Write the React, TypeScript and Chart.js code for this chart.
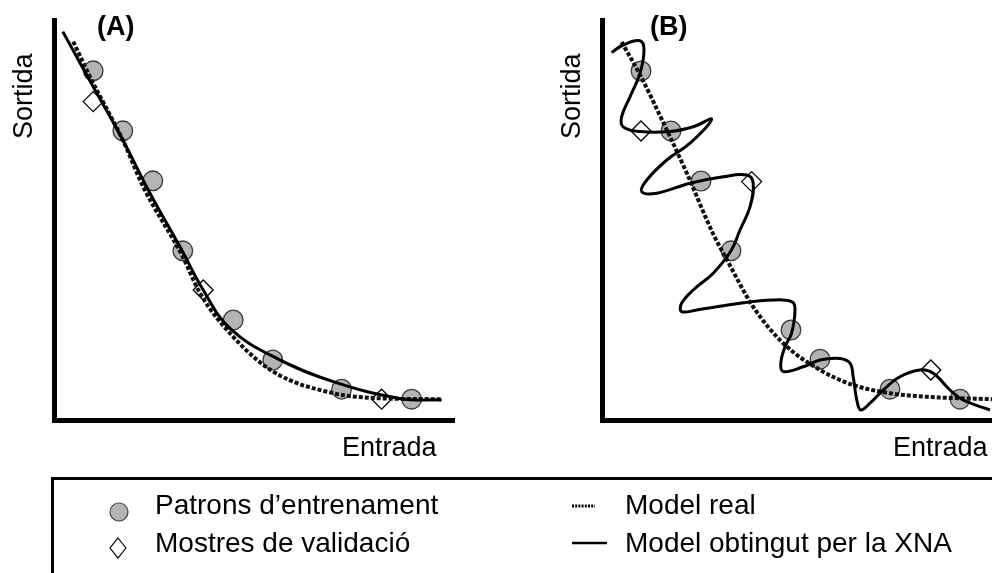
import React, { useEffect, useRef } from "react";
import { Chart, registerables } from "chart.js";

Chart.register(...registerables);

// ---------- Panel A data (arbitrary units 0..100) ----------
const trainAX = [9.8, 17.2, 24.7, 32.2, 44.8, 54.7, 71.9, 89.4];
const trainAY = [87.3, 72.3, 59.8, 42.3, 25, 15, 7.7, 5.2];
const validAX = [9.8, 37.3, 81.9];
const validAY = [79.6, 32.5, 5.2];
const realAX = [4.8, 9.8, 17.2, 22.3, 32.2, 36.5, 44.8, 54.8, 69.8, 82.3, 96.9];
const realAY = [94.6, 84.2, 70, 58.3, 40.8, 31.7, 20.8, 12.1, 6.7, 5.4, 5.2];
const fitAX = [2.2, 9.8, 17.2, 24, 31.5, 37.3, 44, 55.7, 69.8, 86.5, 96.9];
const fitAY = [97.1, 83.3, 70, 56.7, 43.3, 32.5, 22.9, 15.4, 9.6, 5.4, 5];

// ---------- Panel B data ----------
const trainBX = [9.75, 17.25, 24.75, 32.25, 47.25, 54.5, 72, 89.5];
const trainBY = [87.25, 72.25, 59.75, 42.3, 22.5, 15.2, 7.7, 5.2];
const validBX = [9.75, 37.4, 82.2];
const validBY = [72.25, 59.6, 12.5];
const realBX = [4.9, 9.5, 16.2, 21.2, 27.8, 31, 37.8, 45.3, 54.5, 62.8, 72, 81.2, 97.5];
const realBY = [94.5, 86.3, 72.5, 61.7, 46.5, 40.5, 28.3, 19.2, 12.5, 8.75, 6.7, 5.8, 5.2];
const fitBX = [2.4, 5.3, 9.5, 10.5, 9.5, 7, 4.9, 5.3, 9.5, 17, 22.8, 27.4, 22, 16.2, 11.2, 9.9, 13.7, 22, 30.3, 36.2, 37.8, 37, 34.5, 32.25, 27.8, 22.8, 19.9, 19.9, 23.7, 34.5, 42.8, 47.4, 48.25, 47.4, 45.75, 44.7, 45.3, 50.3, 54.5, 59.5, 62, 62.8, 63.7, 64.7, 67, 70.3, 74.5, 79.5, 82.8, 87, 90.3, 97];
const fitBY = [91.9, 93.75, 94.8, 92.5, 86.7, 80.8, 75.8, 73.3, 72.1, 72.1, 73.3, 75.2, 69.2, 65, 60, 57.1, 56.7, 59.2, 60.8, 61.25, 59.2, 53.3, 47.5, 42.3, 36.7, 32.5, 29.2, 27.1, 27.5, 29.2, 30, 29.6, 27.9, 21.7, 18.3, 14.2, 12.1, 13.3, 15, 15.4, 14.2, 10.8, 5, 2.5, 4.2, 7.5, 10.8, 12.5, 11.7, 7.5, 5, 2.5];

// ---------- Text ----------
const panelLabels = ["(A)", "(B)"];
const yTitle = "Sortida";
const xTitle = "Entrada";
const legendTrain = "Patrons d\u2019entrenament";
const legendValid = "Mostres de validaci\u00f3";
const legendReal = "Model real";
const legendFit = "Model obtingut per la XNA";

const FONT = '"Liberation Sans", Arial, Helvetica, sans-serif';
const CW = 470;
const CH = 440;

function pts(xs: number[], ys: number[]) {
  return xs.map((x, i) => ({ x, y: ys[i] }));
}

type PanelProps = {
  left: number;
  trainX: number[]; trainY: number[];
  validX: number[]; validY: number[];
  realX: number[]; realY: number[];
  fitX: number[]; fitY: number[];
};

function Panel(p: PanelProps) {
  const ref = useRef<HTMLCanvasElement | null>(null);
  useEffect(() => {
    if (!ref.current) return;
    const axis = {
      type: "linear" as const,
      min: 0,
      max: 100,
      grid: { display: false, drawTicks: false, tickLength: 0 },
      ticks: { display: false },
      border: { display: true, width: 5, color: "#000" },
      title: { display: false },
    };
    const chart = new Chart(ref.current, {
      type: "scatter",
      data: {
        datasets: [
          {
            label: "fit",
            data: pts(p.fitX, p.fitY),
            showLine: true,
            borderColor: "#000",
            borderWidth: 3,
            pointRadius: 0,
            pointHoverRadius: 0,
            tension: 0.4,
            fill: false,
            order: 0,
            clip: false,
          } as any,
          {
            label: "real",
            data: pts(p.realX, p.realY),
            showLine: true,
            borderColor: "#111",
            borderWidth: 4,
            borderDash: [4, 2],
            pointRadius: 0,
            pointHoverRadius: 0,
            cubicInterpolationMode: "monotone",
            fill: false,
            order: 1,
            clip: false,
          } as any,
          {
            label: "valid",
            data: pts(p.validX, p.validY),
            showLine: false,
            pointStyle: "rectRot",
            pointRadius: 10,
            backgroundColor: "#fff",
            borderColor: "#000",
            borderWidth: 1.3,
            order: 2,
            clip: false,
          } as any,
          {
            label: "train",
            data: pts(p.trainX, p.trainY),
            showLine: false,
            pointStyle: "circle",
            pointRadius: 9.8,
            backgroundColor: "#b4b4b4",
            borderColor: "#3a3a3a",
            borderWidth: 1.3,
            order: 3,
            clip: false,
          } as any,
        ],
      },
      options: {
        responsive: false,
        maintainAspectRatio: false,
        animation: false,
        events: [],
        layout: { padding: { left: 54, top: 20, right: CW - 454, bottom: CH - 420 } },
        plugins: { legend: { display: false }, tooltip: { enabled: false }, title: { display: false } },
        scales: { x: axis, y: axis },
      },
    });
    return () => chart.destroy();
  }, []);
  return (
    <canvas
      ref={ref}
      width={CW}
      height={CH}
      style={{ position: "absolute", left: p.left, top: 0, width: CW, height: CH }}
    />
  );
}

const txt = (extra: React.CSSProperties): React.CSSProperties => ({
  position: "absolute",
  fontFamily: FONT,
  whiteSpace: "nowrap",
  color: "#000",
  margin: 0,
  ...extra,
});

export default function App() {
  return (
    <div
      style={{
        position: "fixed",
        left: 0,
        top: 0,
        width: 992,
        height: 573,
        overflow: "hidden",
        background: "#fff",
        fontFamily: FONT,
      }}
    >
      <Panel left={0} trainX={trainAX} trainY={trainAY} validX={validAX} validY={validAY} realX={realAX} realY={realAY} fitX={fitAX} fitY={fitAY} />
      <Panel left={548} trainX={trainBX} trainY={trainBY} validX={validBX} validY={validBY} realX={realBX} realY={realBY} fitX={fitBX} fitY={fitBY} />

      <div style={txt({ left: 97, top: 13, fontSize: 27, lineHeight: "27px", fontWeight: "bold" })}>{panelLabels[0]}</div>
      <div style={txt({ left: 650, top: 13, fontSize: 27, lineHeight: "27px", fontWeight: "bold" })}>{panelLabels[1]}</div>

      <div style={txt({ left: 10, top: 139, fontSize: 27, lineHeight: "27px", transform: "rotate(-90deg)", transformOrigin: "0 0" })}>{yTitle}</div>
      <div style={txt({ left: 558, top: 139, fontSize: 27, lineHeight: "27px", transform: "rotate(-90deg)", transformOrigin: "0 0" })}>{yTitle}</div>

      <div style={txt({ left: 342, top: 434, fontSize: 27, lineHeight: "27px" })}>{xTitle}</div>
      <div style={txt({ left: 893, top: 434, fontSize: 27, lineHeight: "27px" })}>{xTitle}</div>

      {/* Legend box */}
      <div
        style={{
          position: "absolute",
          left: 51,
          top: 477,
          width: 1000,
          height: 200,
          borderLeft: "3px solid #000",
          borderTop: "3px solid #000",
          boxSizing: "border-box",
        }}
      />
      <svg width={992} height={573} style={{ position: "absolute", left: 0, top: 0 }}>
        <circle cx={119} cy={512} r={9} fill="#b4b4b4" stroke="#444" strokeWidth={1.2} />
        <polygon points="118,538 126,548 118,558 110,548" fill="#fff" stroke="#000" strokeWidth={1.2} />
        <line x1={572} y1={506} x2={595} y2={506} stroke="#000" strokeWidth={3} strokeDasharray="2 1.2" />
        <line x1={572} y1={543} x2={607} y2={543} stroke="#000" strokeWidth={2.5} />
      </svg>
      <div style={txt({ left: 155, top: 491, fontSize: 28, lineHeight: "28px" })}>{legendTrain}</div>
      <div style={txt({ left: 155, top: 529, fontSize: 28, lineHeight: "28px" })}>{legendValid}</div>
      <div style={txt({ left: 625, top: 491, fontSize: 28, lineHeight: "28px" })}>{legendReal}</div>
      <div style={txt({ left: 625, top: 529, fontSize: 28, lineHeight: "28px" })}>{legendFit}</div>
    </div>
  );
}
